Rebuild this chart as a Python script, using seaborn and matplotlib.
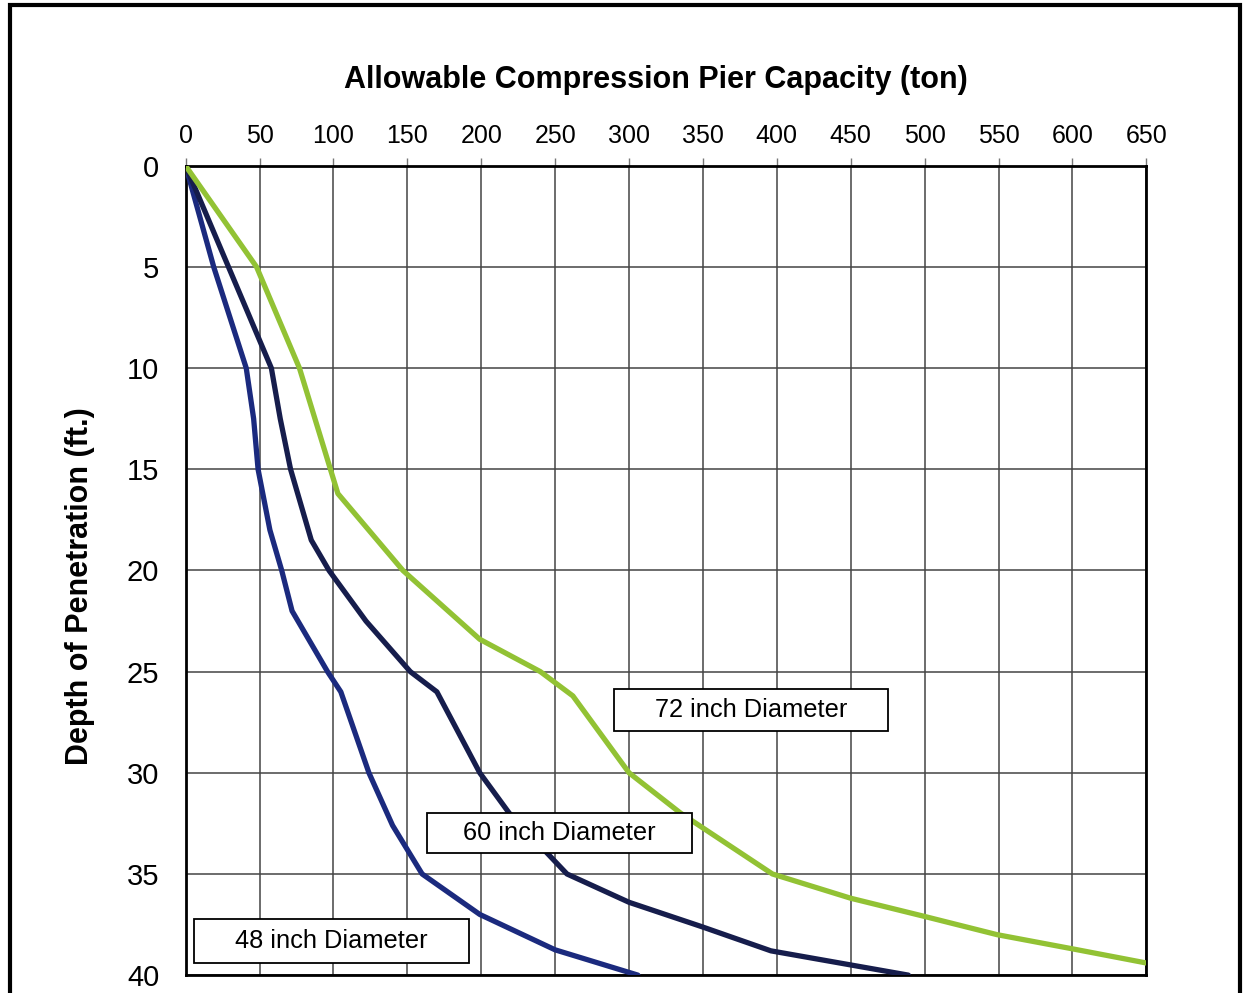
import pandas as pd
import matplotlib
matplotlib.use("Agg")
import matplotlib.pyplot as plt
import matplotlib.patches as mpatches
import seaborn as sns

# values (depth in ft, capacity in ton)
depth_48 = [0, 5, 10, 12.5, 15, 18, 20, 22, 25, 26, 30, 32.6, 35, 37, 38.75, 40]
cap_48 = [0, 19, 41, 46, 49, 57, 65, 72, 96, 105, 124, 140, 160, 199, 250, 306]

depth_60 = [0, 5, 10, 12.5, 15, 18.5, 20, 22.5, 25, 26, 30, 32, 35, 36.4, 37.6, 38.8, 40]
cap_60 = [0, 29, 58, 64, 71, 85, 97, 122, 152, 170, 199, 219, 258, 300, 349, 396, 489]

depth_72 = [0, 5, 10, 16.2, 20, 23.4, 25, 26.2, 30, 32, 35, 36.2, 37.1, 38, 38.7, 39.4]
cap_72 = [0, 48, 77, 103, 147, 199, 240, 262, 300, 335, 397, 450, 500, 549, 600, 650]

labels = ["48 inch Diameter", "60 inch Diameter", "72 inch Diameter"]
colors = ["#1B2A7E", "#161D4C", "#92C234"]

x_ticks = list(range(0, 651, 50))
y_ticks = list(range(0, 41, 5))

# label boxes: (x0, x1, y0, y1) in data units
boxes = [(5.4, 191.6, 37.25, 39.4), (163.2, 342.6, 32.0, 33.95), (289.8, 475.3, 25.85, 27.95)]


def build_frame():
    rows = []
    for name, d, c in zip(labels, [depth_48, depth_60, depth_72], [cap_48, cap_60, cap_72]):
        for i, (dd, cc) in enumerate(zip(d, c)):
            rows.append({"pier": name, "depth": dd, "capacity": cc, "order": i})
    return pd.DataFrame(rows)


def draw(df):
    sns.set_style("white")
    plt.rcParams["font.family"] = ["Liberation Sans", "DejaVu Sans"]
    plt.rcParams["text.color"] = "black"
    plt.rcParams["xtick.color"] = "black"
    plt.rcParams["ytick.color"] = "black"

    fig = plt.figure(figsize=(12.46, 9.93), dpi=100)
    ax = fig.add_axes([0.149, 0.018, 0.771, 0.815])

    sns.lineplot(data=df, x="capacity", y="depth", hue="pier", hue_order=labels,
                 palette=colors, sort=False, estimator=None, lw=3.8,
                 legend=False, ax=ax, zorder=3)

    ax.set_xlim(0, 650)
    ax.set_ylim(40, 0)
    ax.set_xticks(x_ticks)
    ax.set_yticks(y_ticks)
    ax.xaxis.tick_top()
    ax.grid(True, color="#444444", lw=1.1)
    ax.tick_params(axis="x", labelsize=18, length=6, width=1, color="#777777",
                   labelcolor="black", pad=7)
    ax.tick_params(axis="y", labelsize=21, length=6, width=1, color="#777777",
                   labelcolor="black", pad=13)
    for s in ax.spines.values():
        s.set_color("black")
        s.set_linewidth(2)

    ax.set_xlabel("")
    ax.set_ylabel("")
    fig.text(0.526, 0.919, "Allowable Compression Pier Capacity (ton)",
             ha="center", va="center", fontsize=22, fontweight="bold", color="black")
    fig.text(0.064, 0.41, "Depth of Penetration (ft.)", rotation=90,
             ha="center", va="center", fontsize=22, fontweight="bold", color="black")

    for (x0, x1, y0, y1), name in zip(boxes, labels):
        ax.add_patch(mpatches.Rectangle((x0, y0), x1 - x0, y1 - y0, facecolor="white",
                                        edgecolor="black", lw=1.3, zorder=4))
        ax.text((x0 + x1) / 2, (y0 + y1) / 2, name, ha="center", va="center",
                fontsize=18.3, color="black", zorder=5)

    # scanned page frame
    frame = mpatches.Rectangle((0.008, -0.05), 0.987, 1.045, transform=fig.transFigure,
                               fill=False, edgecolor="black", lw=3)
    fig.add_artist(frame)

    fig.savefig("out.png", dpi=100)


if __name__ == "__main__":
    df = build_frame()
    draw(df)
